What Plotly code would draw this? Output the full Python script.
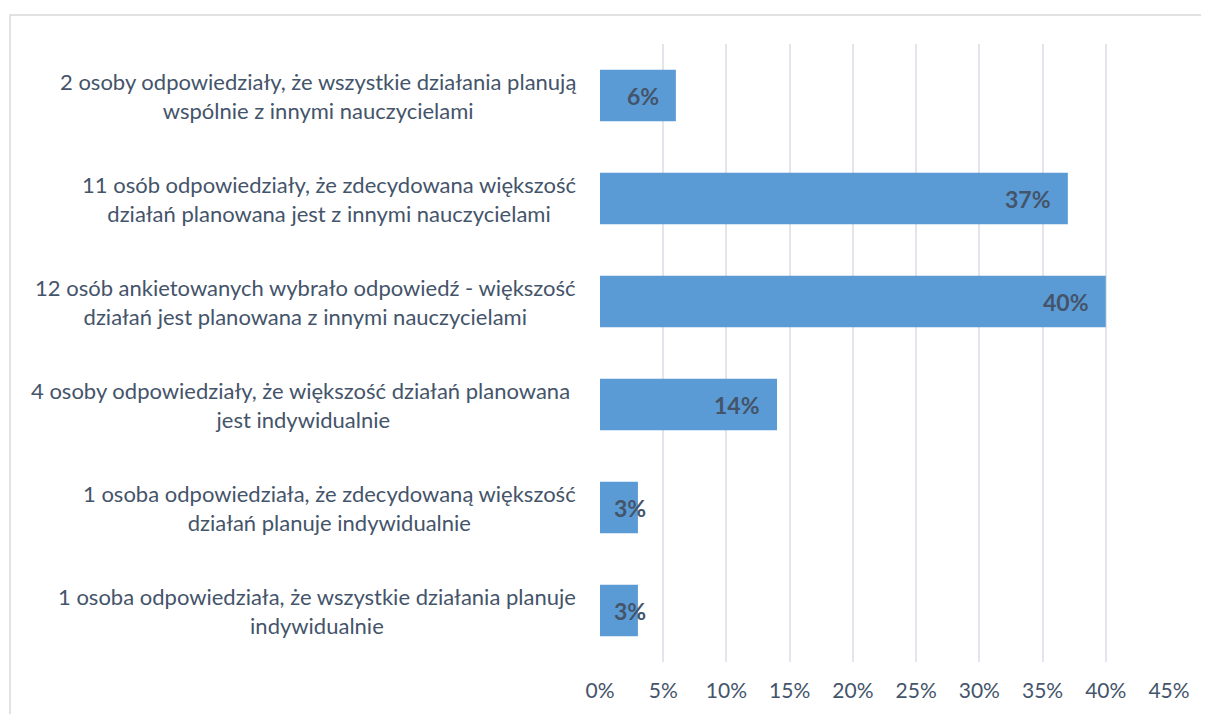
import plotly.graph_objects as go

categories = [
    "2 osoby odpowiedziały, że wszystkie działania planują<br>wspólnie z innymi nauczycielami",
    "11 osób odpowiedziały, że zdecydowana większość<br>działań planowana jest z innymi nauczycielami",
    "12 osób ankietowanych wybrało odpowiedź - większość<br>działań jest planowana z innymi nauczycielami",
    "4 osoby odpowiedziały, że większość działań planowana&nbsp;<br>jest indywidualnie",
    "1 osoba odpowiedziała, że zdecydowaną większość<br>działań planuje indywidualnie",
    "1 osoba odpowiedziała, że wszystkie działania planuje<br>indywidualnie",
]
values = [6, 37, 40, 14, 3, 3]
tick_vals = [0, 5, 10, 15, 20, 25, 30, 35, 40, 45]
tick_text = ["0%", "5%", "10%", "15%", "20%", "25%", "30%", "35%", "40%", "45%"]

ids = list(range(len(categories)))
FONT = "Lato, 'Open Sans', sans-serif"
TXT = "#44546A"

# page body has an 8px default margin -> figure is drawn 8px in from the corner
W, H = 1201, 706
L, R, T, B = 592, 40, 36, 52
pw = W - L - R
ph = H - T - B

fig = go.Figure()
fig.add_trace(go.Bar(
    y=ids, x=values, orientation="h",
    marker=dict(color="#5B9BD5", line=dict(width=0)),
    hoverinfo="skip",
))

annotations = []
for i, (c, v) in enumerate(zip(categories, values)):
    annotations.append(dict(
        xref="paper", yref="y", x=0, y=i, xshift=-22,
        xanchor="right", yanchor="middle", align="center",
        text=c, showarrow=False,
        font=dict(family=FONT, size=22, color=TXT),
    ))
    if v >= 5:
        annotations.append(dict(
            xref="x", yref="y", x=v, y=i, xshift=-15,
            xanchor="right", yanchor="middle",
            text=f"<b>{v}%</b>", showarrow=False,
            font=dict(family=FONT, size=23, color=TXT),
        ))
    else:
        annotations.append(dict(
            xref="x", yref="y", x=0, y=i, xshift=12,
            xanchor="left", yanchor="middle",
            text=f"<b>{v}%</b>", showarrow=False,
            font=dict(family=FONT, size=23, color=TXT),
        ))

fig.update_layout(
    width=W, height=H,
    margin=dict(l=L, r=R, t=T, b=B),
    paper_bgcolor="white", plot_bgcolor="white",
    bargap=0.5, showlegend=False,
    annotations=annotations,
    shapes=[dict(
        type="rect", xref="paper", yref="paper",
        x0=(2 - L) / pw, x1=1.3, y0=-0.3, y1=(ph + T - 7) / ph,
        line=dict(color="#D9D9D9", width=1.5), fillcolor="rgba(0,0,0,0)",
        layer="below",
    )],
    xaxis=dict(
        range=[0, 45], tickvals=tick_vals, ticktext=tick_text,
        showgrid=True, gridcolor="#E2E5EB", gridwidth=1.5,
        zeroline=False, showline=False, ticks="",
        ticklabelstandoff=14,
        tickfont=dict(family=FONT, size=21, color=TXT),
        fixedrange=True,
    ),
    yaxis=dict(
        range=[len(categories) - 0.5, -0.5],
        showticklabels=False, showgrid=False, zeroline=False,
        showline=False, ticks="", fixedrange=True,
    ),
)

fig.write_html("out.html")
